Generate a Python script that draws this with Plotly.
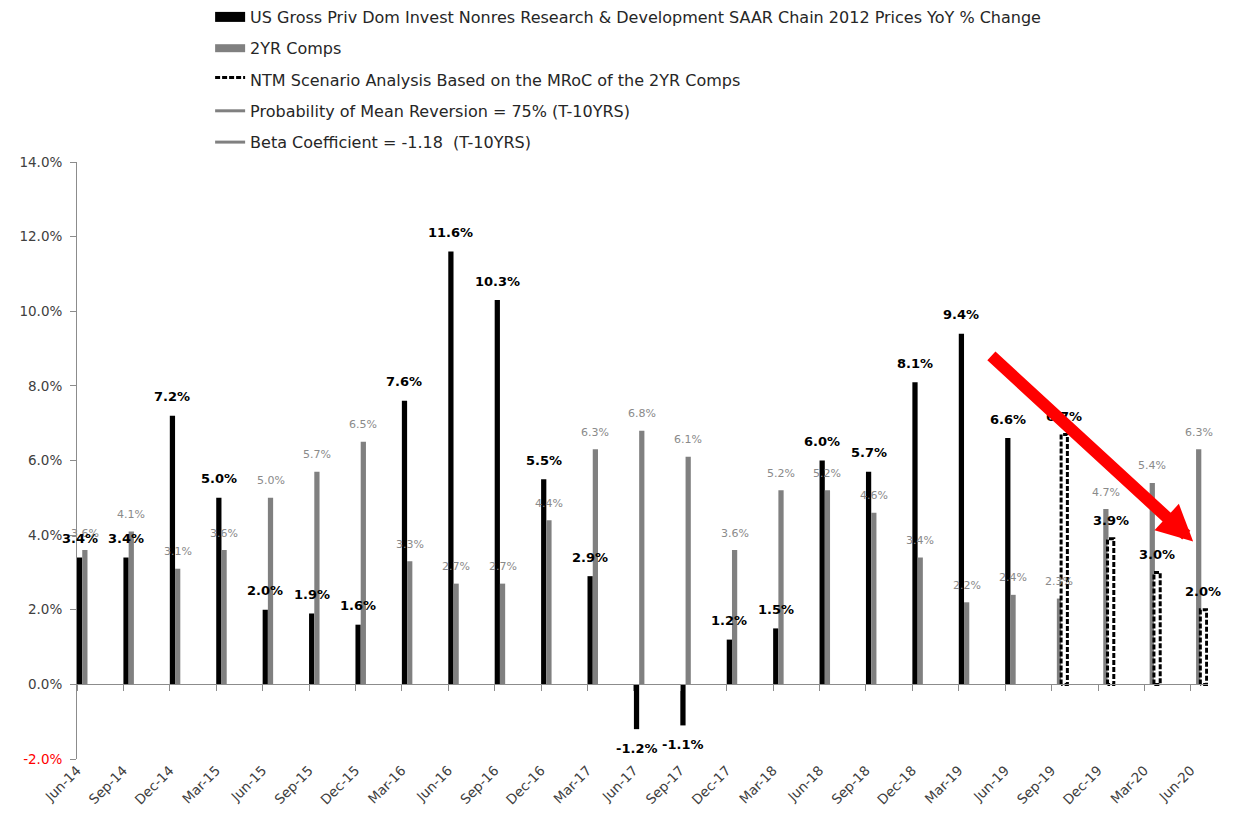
import plotly.graph_objects as go

# ---------------- data ----------------
categories = ["Jun-14", "Sep-14", "Dec-14", "Mar-15", "Jun-15", "Sep-15", "Dec-15",
              "Mar-16", "Jun-16", "Sep-16", "Dec-16", "Mar-17", "Jun-17", "Sep-17",
              "Dec-17", "Mar-18", "Jun-18", "Sep-18", "Dec-18", "Mar-19", "Jun-19",
              "Sep-19", "Dec-19", "Mar-20", "Jun-20"]
actual_yoy = [3.4, 3.4, 7.2, 5.0, 2.0, 1.9, 1.6, 7.6, 11.6, 10.3, 5.5, 2.9, -1.2, -1.1,
              1.2, 1.5, 6.0, 5.7, 8.1, 9.4, 6.6, None, None, None, None]
comps_2yr = [3.6, 4.1, 3.1, 3.6, 5.0, 5.7, 6.5, 3.3, 2.7, 2.7, 4.4, 6.3, 6.8, 6.1,
             3.6, 5.2, 5.2, 4.6, 3.4, 2.2, 2.4, 2.3, 4.7, 5.4, 6.3]
ntm_scenario = [None] * 21 + [6.7, 3.9, 3.0, 2.0]
y_tick_values = [-2, 0, 2, 4, 6, 8, 10, 12, 14]

series_names = [
    "US Gross Priv Dom Invest Nonres Research & Development SAAR Chain 2012 Prices YoY % Change",
    "2YR Comps",
    "NTM Scenario Analysis Based on the MRoC of the 2YR Comps",
    "Probability of Mean Reversion = 75% (T-10YRS)",
    "Beta Coefficient = -1.18  (T-10YRS)",
]

# arrow (annotation) tail and head in data coordinates
arrow_tail = (19.67, 8.84)
arrow_head = (24.05, 3.83)

# ---------------- style ----------------
FONT = "DejaVu Sans"
BLACK = "#000000"
GRAY = "#808080"
AXIS = "#8c8c8c"
BAR_W = 0.113
DASH_X0, DASH_X1 = 0.205, 0.34

idx = list(range(len(categories)))

fig = go.Figure()

fig.add_trace(go.Bar(x=idx, y=actual_yoy, width=BAR_W, offset=0,
                     marker=dict(color=BLACK, line=dict(width=0)),
                     showlegend=False, hoverinfo="skip"))
fig.add_trace(go.Bar(x=idx, y=comps_2yr, width=BAR_W, offset=BAR_W,
                     marker=dict(color=GRAY, line=dict(width=0)),
                     showlegend=False, hoverinfo="skip"))

# dashed scenario boxes
dx, dy = [], []
for i, v in zip(idx, ntm_scenario):
    if v is None:
        continue
    x0, x1 = i + DASH_X0, i + DASH_X1
    dx += [x0, x0, x1, x1, x0, None]
    dy += [0, v, v, 0, 0, None]
fig.add_trace(go.Scatter(x=dx, y=dy, mode="lines", fill="toself", fillcolor="white",
                         line=dict(color=BLACK, width=3, dash="5px,2px"),
                         name=series_names[2], legendgroup="g3", legendrank=3,
                         hoverinfo="skip"))

# legend-only entries
fig.add_trace(go.Scatter(x=[None], y=[None], mode="lines",
                         line=dict(color=BLACK, width=10),
                         name=series_names[0], legendgroup="g1", legendrank=1))
fig.add_trace(go.Scatter(x=[None], y=[None], mode="lines",
                         line=dict(color=GRAY, width=8),
                         name=series_names[1], legendgroup="g2", legendrank=2))
fig.add_trace(go.Scatter(x=[None], y=[None], mode="lines",
                         line=dict(color=GRAY, width=3),
                         name=series_names[3], legendgroup="g4", legendrank=4))
fig.add_trace(go.Scatter(x=[None], y=[None], mode="lines",
                         line=dict(color=GRAY, width=3),
                         name=series_names[4], legendgroup="g5", legendrank=5))

# dummy trace so the zero-line axis is drawn
fig.add_trace(go.Scatter(x=[0], y=[None], xaxis="x2", mode="markers",
                         showlegend=False, hoverinfo="skip"))

# ---------------- labels ----------------
annotations = []
for i, v in zip(idx, comps_2yr):
    if v is None:
        continue
    annotations.append(dict(x=i + 1.5 * BAR_W, y=v, text=f"{v:.1f}%", showarrow=False,
                            yshift=17, font=dict(family=FONT, size=11, color="#8a8a8a")))
for i, v in zip(idx, actual_yoy):
    if v is None:
        continue
    annotations.append(dict(x=i + 0.5 * BAR_W, y=v, text=f"<b>{v:.1f}%</b>", showarrow=False,
                            yshift=19 if v >= 0 else -19,
                            font=dict(family=FONT, size=13, color=BLACK)))
for i, v in zip(idx, ntm_scenario):
    if v is None:
        continue
    annotations.append(dict(x=i + (DASH_X0 + DASH_X1) / 2, y=v, text=f"<b>{v:.1f}%</b>",
                            showarrow=False, yshift=18,
                            font=dict(family=FONT, size=13, color=BLACK)))
annotations.append(dict(x=arrow_head[0], y=arrow_head[1], ax=arrow_tail[0], ay=arrow_tail[1],
                        xref="x", yref="y", axref="x", ayref="y", text="", showarrow=True,
                        arrowhead=2, arrowsize=0.6, arrowwidth=12, arrowcolor="#ff0000",
                        standoff=0))

y_tick_text = [f'<span style="color:#ff0000">{v:.1f}%</span>' if v < 0 else f"{v:.1f}%"
               for v in y_tick_values]

fig.update_layout(
    width=1236, height=826,
    margin=dict(l=77, r=28, t=162, b=67, autoexpand=False),
    paper_bgcolor="white", plot_bgcolor="white",
    barmode="overlay",
    font=dict(family=FONT, size=13, color="#404040"),
    showlegend=True,
    legend=dict(xref="container", yref="container", x=0.17, y=1.0,
                xanchor="left", yanchor="top", orientation="v",
                font=dict(family=FONT, size=16, color="#262626"),
                tracegroupgap=7.5, itemwidth=30, bgcolor="rgba(0,0,0,0)"),
    xaxis=dict(range=[0, 24.37], tickmode="array", tickvals=idx, ticktext=categories,
               tickangle=-45, showline=False, ticks="", showgrid=False, zeroline=False,
               tickfont=dict(family=FONT, size=13.5, color="#404040")),
    xaxis2=dict(matches="x", overlaying="x", anchor="free", position=0.125,
                showline=True, linecolor=AXIS, linewidth=1, ticks="outside", ticklen=6,
                tickcolor=AXIS, tickmode="array", tickvals=idx, showticklabels=False,
                showgrid=False, zeroline=False),
    yaxis=dict(range=[-2, 14], tickmode="array", tickvals=y_tick_values, ticktext=y_tick_text,
               showline=True, linecolor=AXIS, linewidth=1, ticks="outside", ticklen=6,
               tickcolor=AXIS, showgrid=False, zeroline=False, ticklabelstandoff=5,
               tickfont=dict(family=FONT, size=13.5, color="#404040")),
    annotations=annotations,
)

fig.write_html("out.html")
